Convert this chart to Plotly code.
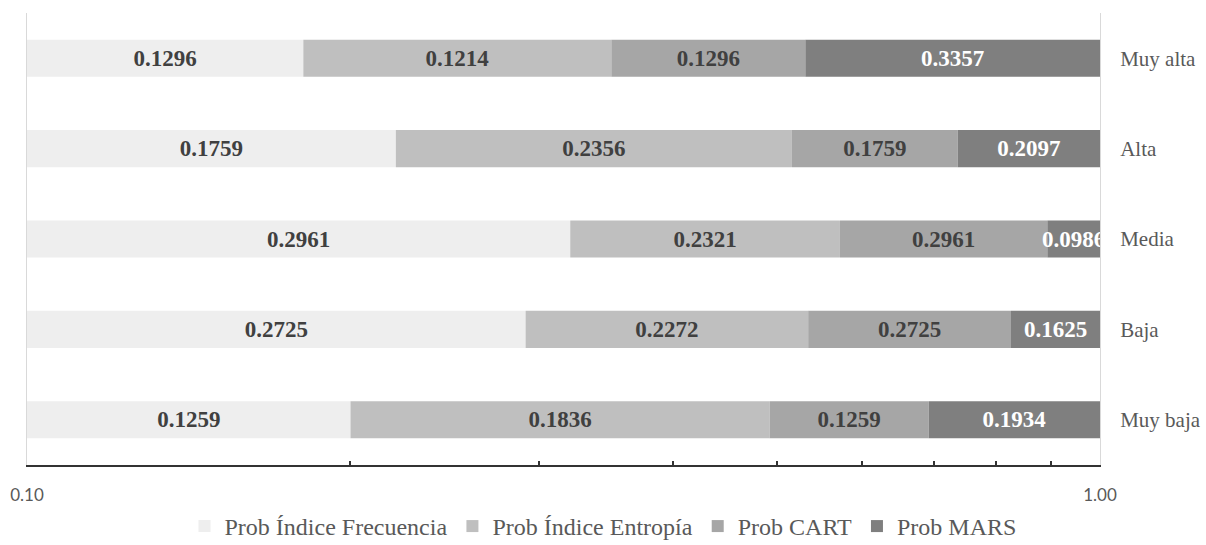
import numpy as np
import plotly.graph_objects as go

# Risk levels (top to bottom) and probability values of each method
niveles = ["Muy alta", "Alta", "Media", "Baja", "Muy baja"]
prob_frecuencia = [0.1296, 0.1759, 0.2961, 0.2725, 0.1259]
prob_entropia = [0.1214, 0.2356, 0.2321, 0.2272, 0.1836]
prob_cart = [0.1296, 0.1759, 0.2961, 0.2725, 0.1259]
prob_mars = [0.3357, 0.2097, 0.0986, 0.1625, 0.1934]

series_names = ["Prob Índice Frecuencia", "Prob Índice Entropía", "Prob CART", "Prob MARS"]
series_colors = ["#eeeeee", "#bfbfbf", "#a6a6a6", "#7f7f7f"]
label_colors = ["#404040", "#404040", "#404040", "#ffffff"]

x_tick_vals = [0.1, 0.2, 0.3, 0.4, 0.5, 0.6, 0.7, 0.8, 0.9, 1.0]
x_tick_text = ["0.10", "", "", "", "", "", "", "", "", "1.00"]

# 100 % stacked shares per level, drawn on a log axis starting at 0.10
values = np.array([prob_frecuencia, prob_entropia, prob_cart, prob_mars])
shares = values / values.sum(axis=0)
cum = np.cumsum(shares, axis=0)
axis_min = x_tick_vals[0]

serif = "Liberation Serif"
fig = go.Figure()
for k, name in enumerate(series_names):
    base = np.full(len(niveles), axis_min) if k == 0 else cum[k - 1]
    fig.add_trace(go.Bar(
        y=niveles,
        x=cum[k] - base,
        base=base,
        orientation="h",
        name=name,
        marker=dict(color=series_colors[k], line=dict(width=0)),
        text=[f"{v:.4f}" for v in values[k]],
        textposition="inside",
        insidetextanchor="middle",
        constraintext="none",
        textangle=0,
        insidetextfont=dict(family=serif, size=23, color=label_colors[k], weight="bold"),
        cliponaxis=True,
        hoverinfo="skip",
    ))

fig.update_layout(
    width=1206,
    height=545,
    margin=dict(l=27, r=106, t=13, b=80, autoexpand=False),
    paper_bgcolor="white",
    plot_bgcolor="white",
    barmode="overlay",
    bargap=0.59,
    xaxis=dict(
        type="log",
        range=[np.log10(axis_min), 0],
        tickvals=x_tick_vals,
        ticktext=x_tick_text,
        ticks="inside",
        ticklen=4,
        tickwidth=2,
        tickcolor="#333333",
        showline=True,
        linecolor="#333333",
        linewidth=2,
        showgrid=False,
        zeroline=False,
        tickfont=dict(family="Lato", size=17, color="#595959"),
        ticklabelstandoff=14,
    ),
    yaxis=dict(
        side="right",
        categoryorder="array",
        categoryarray=niveles,
        autorange="reversed",
        showline=True,
        mirror=True,
        linecolor="#d9d9d9",
        linewidth=1,
        ticks="",
        showgrid=False,
        zeroline=False,
        tickfont=dict(family=serif, size=21, color="#595959"),
        ticklabelstandoff=15,
    ),
    legend=dict(
        orientation="h",
        xref="container",
        yref="paper",
        x=0.5,
        xanchor="center",
        y=-0.136,
        yanchor="middle",
        font=dict(family=serif, size=24, color="#595959"),
        traceorder="normal",
    ),
)

fig.write_html("out.html")
